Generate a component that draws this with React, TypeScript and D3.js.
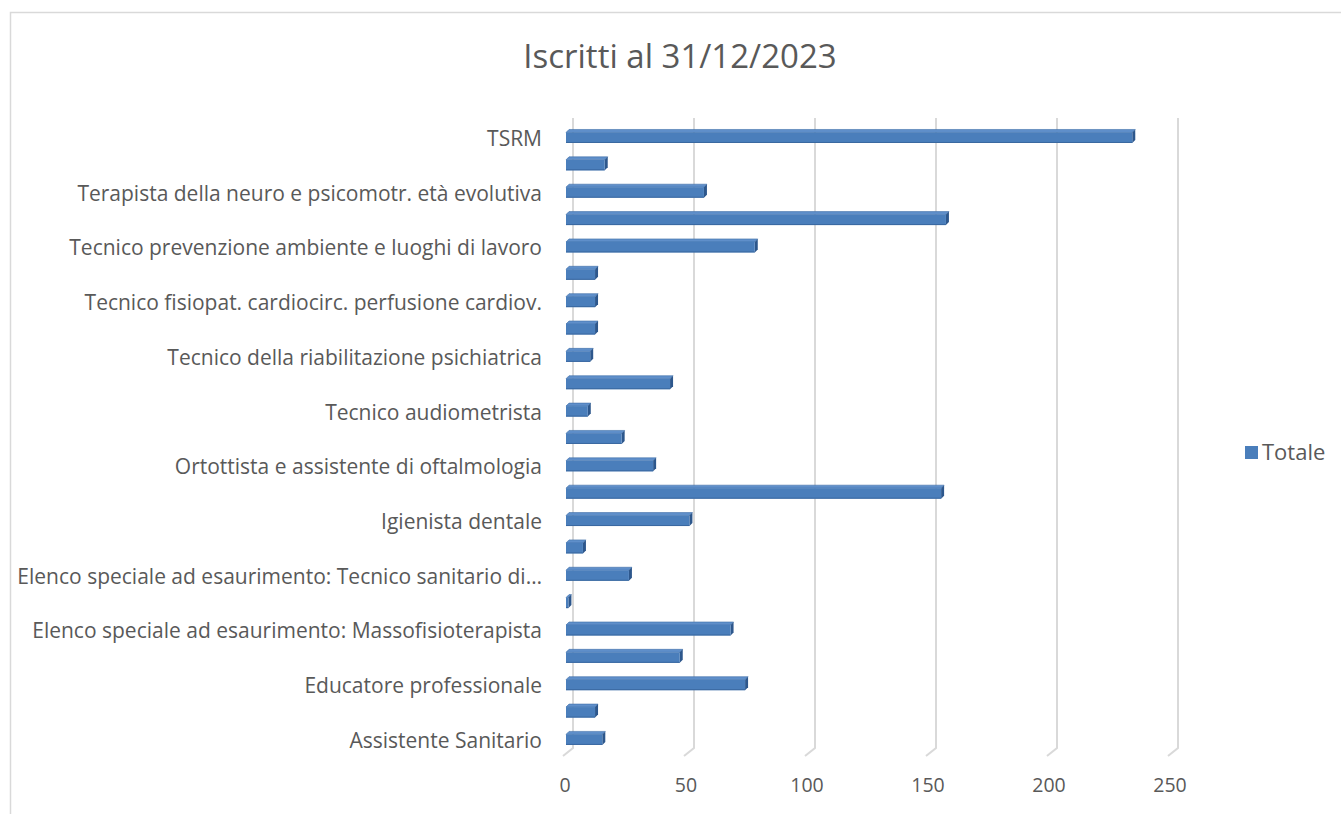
import React from "react";
import * as d3 from "d3";

const categories: string[] = [
  "TSRM",
  "Terapista occupazionale",
  "Terapista della neuro e psicomotr. età evolutiva",
  "Tecnico sanitario laboratorio biomedico",
  "Tecnico prevenzione ambiente e luoghi di lavoro",
  "Tecnico ortopedico",
  "Tecnico fisiopat. cardiocirc. perfusione cardiov.",
  "Tecnico di neurofisiopatologia",
  "Tecnico della riabilitazione psichiatrica",
  "Tecnico audioprotesista",
  "Tecnico audiometrista",
  "Podologo",
  "Ortottista e assistente di oftalmologia",
  "Logopedista",
  "Igienista dentale",
  "Fisioterapista",
  "Elenco speciale ad esaurimento: Tecnico sanitario di…",
  "Elenco speciale ad esaurimento: Tecnico di radiologia",
  "Elenco speciale ad esaurimento: Massofisioterapista",
  "Elenco speciale ad esaurimento: Educatore",
  "Educatore professionale",
  "Dietista",
  "Assistente Sanitario",
];

const totals: number[] = [
  234, 16, 57, 157, 78, 12, 12, 12, 10, 43, 9, 23, 36, 155, 51, 7, 26, 1, 68, 47, 74, 12, 15,
];

const xTicks: number[] = [0, 50, 100, 150, 200, 250];
const seriesName = "Totale";
const title = "Iscritti al 31/12/2023";

const FONT = "'Open Sans', Lato, sans-serif";
const TEXT = "#595959";

export default function App() {
  const W = 1341;
  const H = 814;
  const x = d3.scaleLinear().domain([0, 250]).range([566, 1171]);
  const y = d3.scalePoint<string>().domain(categories).range([122.3, 751.6]).padding(0.5);
  const backDx = 7;
  const gridTop = 118;
  const gridBottom = 748;
  const depth = 3;

  return (
    <svg width={W} height={H} style={{ position: "absolute", left: 0, top: 0 }}>
      <rect x={0} y={0} width={W} height={H} fill="#ffffff" />
      <rect x={10.5} y={12.5} width={W + 10} height={H + 10} fill="#ffffff" stroke="#d9d9d9" strokeWidth={1.5} />
      <text x={680} y={68} textAnchor="middle" fontFamily={FONT} fontSize={33} fill={TEXT}>
        {title}
      </text>
      {xTicks.map((t) => {
        const gx = x(t) + backDx;
        return (
          <g key={"g" + t}>
            <path
              d={`M${gx},${gridTop}L${gx},${gridBottom}L${gx - 10},${gridBottom + 8}`}
              fill="none"
              stroke="#d9d9d9"
              strokeWidth={2}
            />
            <text x={x(t) - 1} y={792} textAnchor="middle" fontFamily={FONT} fontSize={19.5} fill={TEXT}>
              {t}
            </text>
          </g>
        );
      })}
      {categories.map((c, i) => {
        const cy = y(c) as number;
        const v = totals[i];
        const x0 = x(0);
        const x1 = x(v);
        const fTop = cy - 3.5;
        const fBot = cy + 7;
        return (
          <g key={c}>
            <path
              d={`M${x0},${fTop}L${x0 + depth},${fTop - depth}L${x1 + depth},${fTop - depth}L${x1},${fTop}Z`}
              fill="#5f8fca"
              stroke="#3f6ea8"
              strokeWidth={0.6}
            />
            <path
              d={`M${x1},${fTop}L${x1 + depth},${fTop - depth}L${x1 + depth},${fBot - depth}L${x1},${fBot}Z`}
              fill="#2d578c"
            />
            <rect x={x0} y={fTop} width={Math.max(0, x1 - x0)} height={fBot - fTop} fill="#4a7ebb" />
            <line x1={x0} x2={x1} y1={fBot - 0.5} y2={fBot - 0.5} stroke="#3a68a0" strokeWidth={1} />
            {i % 2 === 0 && (
              <text x={542} y={cy + 10} textAnchor="end" fontFamily={FONT} fontSize={21} fill={TEXT}>
                {c}
              </text>
            )}
          </g>
        );
      })}
      <rect x={1245} y={446} width={13} height={13} fill="#4a7ebb" />
      <text x={1262} y={459.5} fontFamily={FONT} fontSize={22} fill={TEXT}>
        {seriesName}
      </text>
    </svg>
  );
}
